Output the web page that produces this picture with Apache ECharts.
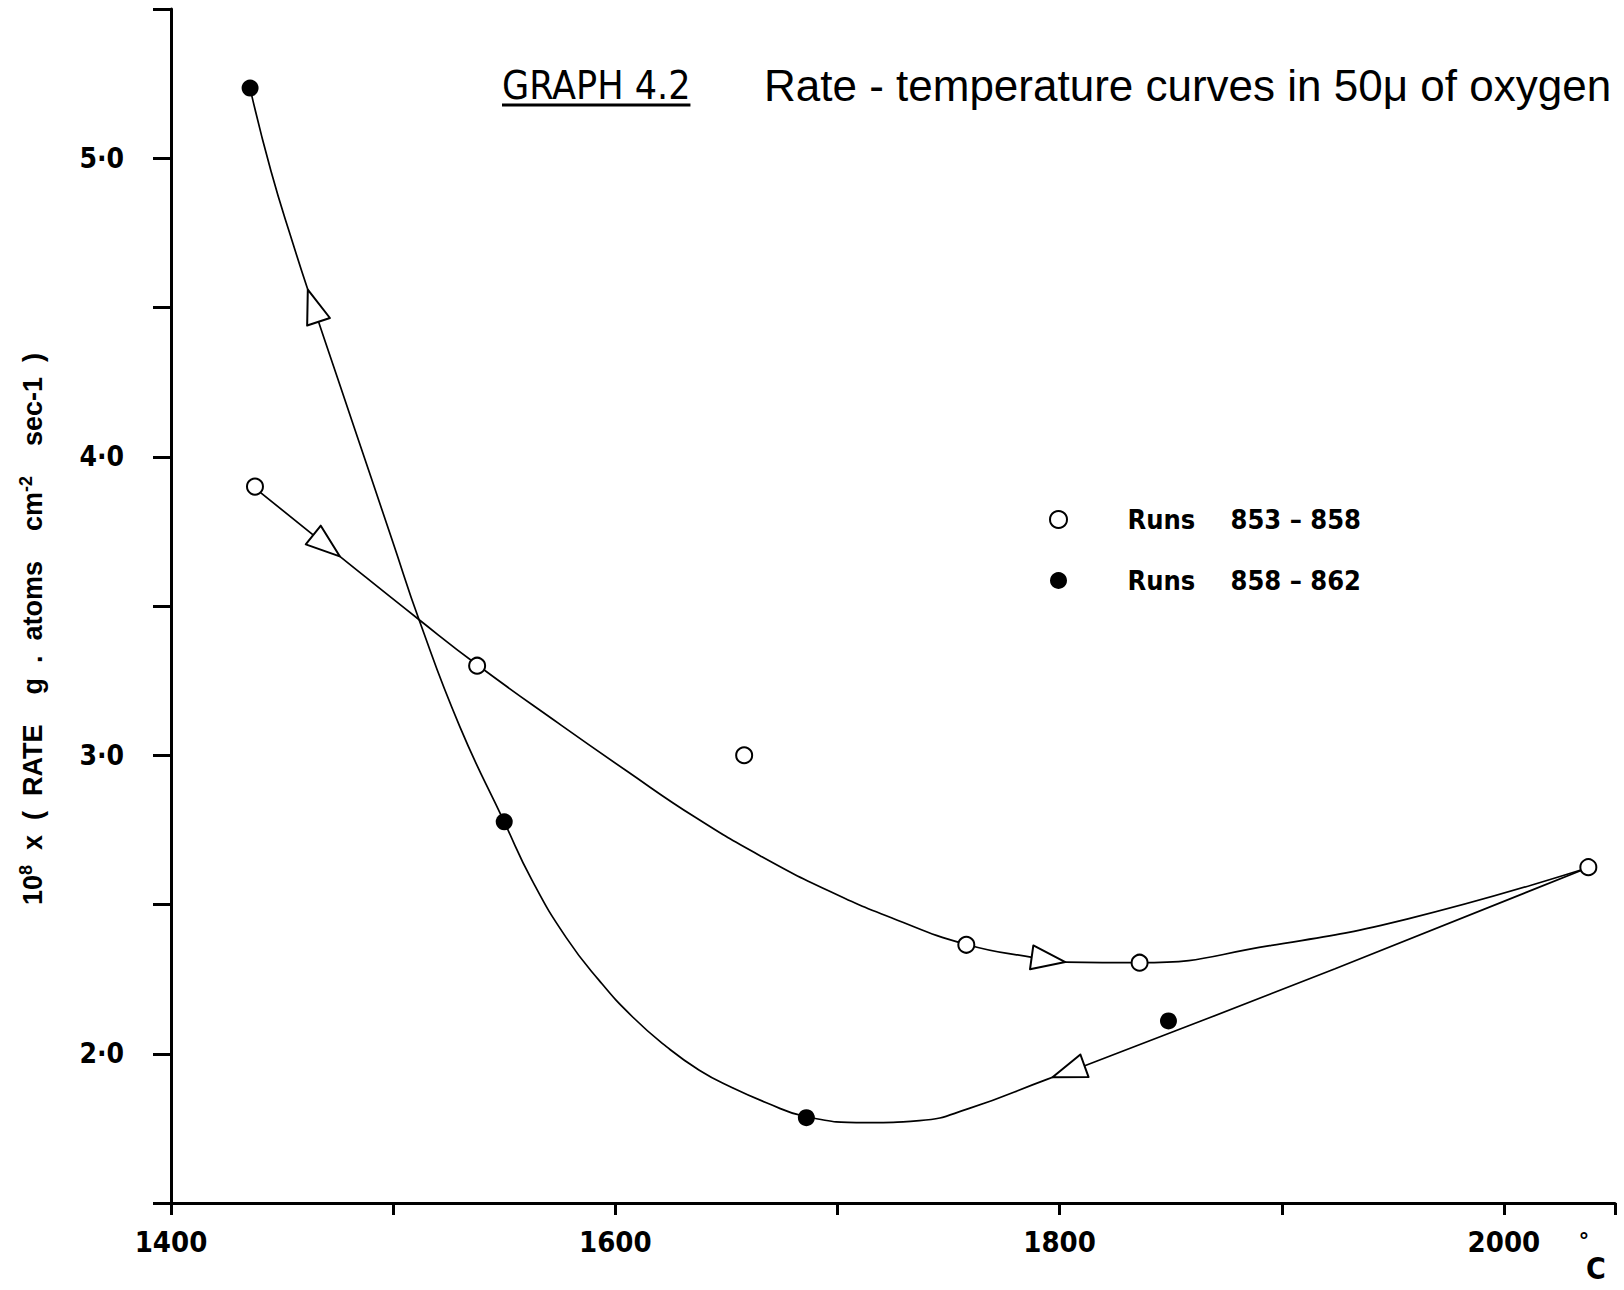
<!DOCTYPE html>
<html>
<head>
<meta charset="utf-8">
<script src="https://cdn.jsdelivr.net/npm/echarts@6/dist/echarts.min.js"></script>
<style>
html,body{margin:0;padding:0;background:#fff;}
#chart{width:1624px;height:1290px;}
</style>
</head>
<body>
<div id="chart"></div>
<script>
// ---------------- data ----------------
const xTickLabels = [1400, 1600, 1800, 2000];
const yTickLabels = [2, 3, 4, 5];
const legendNames = ['Runs 853 – 858', 'Runs 858 – 862'];

// open circles
const runs853to858 = [[1437.8, 3.90], [1537.8, 3.30], [1658, 3.00], [1758, 2.365], [1836, 2.305], [2038, 2.625]];
// filled circles
const runs858to862 = [[1435.6, 5.235], [1550, 2.777], [1686, 1.786], [1849, 2.11]];

// hand-drawn curve through the open circles (heating)
const heatingCurve = [
  [1437.8, 3.895], [1475.7, 3.668], [1511.7, 3.454], [1537.8, 3.303], [1574.8, 3.105],
  [1605, 2.948], [1636, 2.792], [1666, 2.660], [1696, 2.546], [1724.8, 2.454],
  [1758.1, 2.366], [1788.3, 2.322], [1802.7, 2.307], [1836, 2.305], [1894.6, 2.362],
  [1956.8, 2.452], [2037.8, 2.623]
];
// hand-drawn curve through the filled circles (cooling)
const coolingCurve = [
  [1435.6, 5.234], [1445, 4.957], [1455, 4.712], [1462.2, 4.546], [1475, 4.263],
  [1490, 3.932], [1500, 3.711], [1511.7, 3.453], [1530, 3.096], [1550, 2.777],
  [1562.6, 2.580], [1577.9, 2.389], [1592.8, 2.245], [1607.7, 2.124], [1623, 2.024],
  [1637.8, 1.945], [1652.7, 1.886], [1668, 1.836], [1686, 1.789], [1713.1, 1.769],
  [1736.9, 1.776], [1759, 1.816], [1794.6, 1.915], [1811.3, 1.960], [1924, 2.285],
  [2037.8, 2.623]
];
// temperatures where the direction arrows sit
const heatingArrows = [1470, 1795];
const coolingArrows = [1464, 1804];

// ---------------- chart ----------------
const FONT = "'Liberation Sans Narrow', 'DejaVu Sans Condensed', 'Arial Narrow', sans-serif";
const FONT_W = "'Liberation Sans', 'DejaVu Sans', Arial, sans-serif";

function interp(curve, t) {
  if (t <= curve[0][0]) return curve[0][1];
  for (let i = 0; i < curve.length - 1; i++) {
    const a = curve[i], b = curve[i + 1];
    if (t >= a[0] && t <= b[0]) return a[1] + (b[1] - a[1]) * (t - a[0]) / (b[0] - a[0]);
  }
  return curve[curve.length - 1][1];
}
const curves = [heatingCurve, coolingCurve];
const arrowData = heatingArrows.map(t => [t, interp(heatingCurve, t), 1, 0])
  .concat(coolingArrows.map(t => [t, interp(coolingCurve, t), -1, 1]));

function renderArrow(params, api) {
  const t = api.value(0), y = api.value(1), dir = api.value(2), curve = curves[api.value(3)];
  const p = api.coord([t, y]);
  const a = api.coord([t - 4, interp(curve, t - 4)]);
  const b = api.coord([t + 4, interp(curve, t + 4)]);
  let ux = (b[0] - a[0]) * dir, uy = (b[1] - a[1]) * dir;
  const len = Math.hypot(ux, uy) || 1; ux /= len; uy /= len;
  const L = 34, W = 24;
  const nx = -uy, ny = ux;
  const tip = [p[0] + ux * L / 2, p[1] + uy * L / 2];
  const bc = [p[0] - ux * L / 2, p[1] - uy * L / 2];
  return {
    type: 'polygon',
    shape: { points: [tip, [bc[0] + nx * W / 2, bc[1] + ny * W / 2], [bc[0] - nx * W / 2, bc[1] - ny * W / 2]] },
    style: { fill: '#fff', stroke: '#000', lineWidth: 2, lineJoin: 'round' }
  };
}

const TITLE_FONT = '39px ' + FONT;
const mctx = document.createElement('canvas').getContext('2d');
mctx.font = TITLE_FONT;
const titleW = mctx.measureText('GRAPH 4.2').width;

const chart = echarts.init(document.getElementById('chart'), null, { renderer: 'svg', width: 1624, height: 1290 });

const option = {
  animation: false,
  backgroundColor: '#fff',
  grid: { left: 171, right: 9, top: 9, bottom: 87, containLabel: false },
  xAxis: {
    type: 'value', min: 1400, max: 2050, interval: 100,
    axisLine: { show: true, lineStyle: { color: '#000', width: 3 } },
    axisTick: { show: true, length: 12, lineStyle: { color: '#000', width: 3 } },
    axisLabel: {
      margin: 24, showMinLabel: true, showMaxLabel: true,
      formatter: v => xTickLabels.includes(v) ? String(v) : '',
      fontFamily: FONT, fontSize: 29, fontWeight: 'bold', color: '#000'
    },
    splitLine: { show: false }
  },
  yAxis: {
    type: 'value', min: 1.5, max: 5.5, interval: 0.5,
    axisLine: { show: true, lineStyle: { color: '#000', width: 3 } },
    axisTick: { show: true, length: 18, lineStyle: { color: '#000', width: 3 } },
    axisLabel: {
      margin: 47, showMinLabel: true, showMaxLabel: true,
      formatter: v => yTickLabels.includes(v) ? v.toFixed(1).replace('.', '·') : '',
      fontFamily: FONT, fontSize: 28, fontWeight: 'bold', color: '#000'
    },
    splitLine: { show: false }
  },
  legend: {
    orient: 'vertical', left: 1044, top: 501, itemWidth: 24, itemHeight: 17, itemGap: 34,
    selectedMode: false, data: legendNames,
    formatter: name => {
      const parts = name.split(' ');
      return '{r|' + parts[0] + '}{n|' + parts.slice(1).join(' ') + '}';
    },
    textStyle: {
      color: '#000', fontFamily: FONT, fontSize: 27, fontWeight: 'bold', padding: [0, 0, 0, 52],
      rich: {
        r: { width: 103, fontFamily: FONT, fontSize: 27, fontWeight: 'bold', color: '#000', lineHeight: 34 },
        n: { fontFamily: FONT, fontSize: 27, fontWeight: 'bold', color: '#000', lineHeight: 34 }
      }
    }
  },
  series: [
    { type: 'line', name: 'heating', data: heatingCurve, smooth: 0.5, symbol: 'none', showSymbol: false,
      lineStyle: { color: '#000', width: 1.7 }, silent: true, z: 2 },
    { type: 'line', name: 'cooling', data: coolingCurve, smooth: 0.5, symbol: 'none', showSymbol: false,
      lineStyle: { color: '#000', width: 1.7 }, silent: true, z: 2 },
    { type: 'custom', name: 'arrows', data: arrowData, renderItem: renderArrow, encode: { x: 0, y: 1 }, silent: true, z: 4 },
    { type: 'scatter', name: legendNames[0], data: runs853to858, symbol: 'circle', symbolSize: 16,
      itemStyle: { color: '#fff', borderColor: '#000', borderWidth: 2, opacity: 1 }, z: 5 },
    { type: 'scatter', name: legendNames[1], data: runs858to862, symbol: 'circle', symbolSize: 17,
      itemStyle: { color: '#000', opacity: 1 }, z: 5 }
  ],
  graphic: [
    { type: 'text', x: 502, y: 85, style: { text: 'GRAPH 4.2', font: TITLE_FONT, fill: '#000', align: 'left', verticalAlign: 'middle' } },
    { type: 'line', shape: { x1: 502, y1: 105, x2: 502 + titleW, y2: 105 }, style: { stroke: '#000', lineWidth: 3 } },
    { type: 'text', x: 764, y: 85, style: { text: 'Rate - temperature curves in 50μ of oxygen', font: '44px ' + FONT_W, fill: '#000', align: 'left', verticalAlign: 'middle' } },
    { type: 'text', x: 1584, y: 1240, style: { text: '°', font: 'bold 22px ' + FONT_W, fill: '#000', align: 'center', verticalAlign: 'middle' } },
    { type: 'text', x: 1596, y: 1268, style: { text: 'C', font: 'bold 30px ' + FONT, fill: '#000', align: 'center', verticalAlign: 'middle' } },
    { type: 'text', x: 33, y: 629, rotation: Math.PI / 2, style: {
        text: '{n|10}{s|8}{n|  x  (  RATE    g  .  atoms    cm}{s|-2}{n|    sec-1  )}',
        align: 'center', verticalAlign: 'middle',
        rich: {
          n: { fontFamily: FONT_W, fontSize: 27, fontWeight: 'bold', fill: '#000', lineHeight: 32 },
          s: { fontFamily: FONT_W, fontSize: 18, fontWeight: 'bold', fill: '#000', lineHeight: 32, verticalAlign: 'top' }
        } } }
  ]
};
chart.setOption(option);
</script>
</body>
</html>
